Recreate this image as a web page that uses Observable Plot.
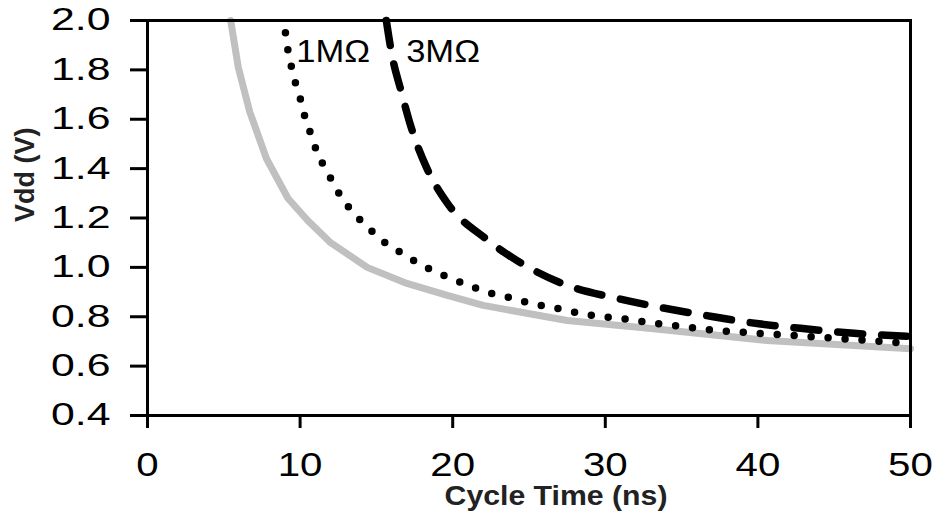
<!DOCTYPE html>
<html><head><meta charset="utf-8">
<script src="https://cdn.jsdelivr.net/npm/d3@7"></script>
<script src="https://cdn.jsdelivr.net/npm/@observablehq/plot@0.6"></script>
<style>body{margin:0;background:#fff} svg{display:block}</style>
</head><body><div id="chart"></div>
<script>
// Series: cycle time (ns) and Vdd (V)
const tBase = [5.45, 5.95, 6.7, 7.8, 9.2, 10.5, 12.0, 14.4, 17.0, 19.7, 22.0, 27.5, 33.0, 40.6, 50];
const vBase = [2.0, 1.81, 1.63, 1.44, 1.28, 1.19, 1.10, 1.0, 0.935, 0.886, 0.846, 0.785, 0.752, 0.704, 0.670];
const t1M = [9.04, 9.17, 9.37, 9.57, 9.9, 10.16, 10.4, 10.8, 11.1, 11.6, 12.1, 12.7, 13.4, 14.35, 15.45, 16.6, 17.76, 18.9, 20.05, 21.2, 22.3, 23.5, 24.6, 25.8, 26.9, 28.1, 29.2, 30.4, 31.6, 32.7, 37.3, 44.3, 50];
const v1M = [1.95, 1.89, 1.83, 1.77, 1.71, 1.648, 1.587, 1.526, 1.465, 1.405, 1.35, 1.283, 1.226, 1.166, 1.105, 1.06, 1.016, 0.98, 0.951, 0.923, 0.898, 0.882, 0.862, 0.846, 0.833, 0.817, 0.805, 0.797, 0.789, 0.777, 0.744, 0.716, 0.692];
const t3M = [15.65, 16.0, 16.62, 17.3, 18.28, 19.66, 22.15, 24.97, 27.5, 30.8, 33.6, 36.6, 39.4, 42.8, 46.3, 50];
const v3M = [2.0, 1.866, 1.714, 1.563, 1.405, 1.259, 1.117, 1.0, 0.927, 0.874, 0.838, 0.805, 0.777, 0.753, 0.733, 0.72];
const xTicks = [0, 10, 20, 30, 40, 50];
const yTicks = [0.4, 0.6, 0.8, 1.0, 1.2, 1.4, 1.6, 1.8, 2.0];
const seriesLabels = ["1MΩ", "3MΩ"];
const labelT = [9.75, 16.95];
const labelV = [1.875, 1.875];
const xTitle = "Cycle Time (ns)";
const yTitle = "Vdd (V)";

const zip = (ts, vs) => ts.map((t, i) => ({t, v: vs[i]}));

const plot = Plot.plot({
  width: 936, height: 515,
  marginLeft: 147, marginRight: 26, marginTop: 20, marginBottom: 100,
  style: {fontFamily: "'Liberation Sans', Arial, Helvetica, sans-serif", background: "#fff", color: "#000", overflow: "visible"},
  x: {domain: [0, 50]},
  y: {domain: [0.4, 2.0]},
  marks: [
    Plot.line(zip(tBase, vBase), {x: "t", y: "v", stroke: "#c0c0c0", strokeWidth: 7}),
    Plot.line(zip(t1M, v1M), {x: "t", y: "v", stroke: "#000", strokeWidth: 7.5, strokeDasharray: "0,17", strokeLinecap: "round"}),
    Plot.line(zip(t3M, v3M), {x: "t", y: "v", stroke: "#000", strokeWidth: 7.5, strokeDasharray: "25,19", strokeLinecap: "round", curve: "monotone-x"}),
    Plot.frame({stroke: "#000", strokeWidth: 3}),
    Plot.axisY({ticks: yTicks, tickFormat: d3.format(".1f"), tickSize: 17, tickPadding: 20, fontSize: 31, strokeWidth: 3, label: null}),
    Plot.axisX({ticks: xTicks, tickFormat: d3.format("d"), tickSize: 13, tickPadding: 24, fontSize: 33, strokeWidth: 3, label: null}),
    Plot.text(seriesLabels, {x: (d, i) => labelT[i], y: (d, i) => labelV[i], text: d => d, textAnchor: "start", fontSize: 32, fill: "#000"}),
    Plot.text([xTitle], {frameAnchor: "bottom", text: d => d, dx: 27, dy: 89, fontSize: 27, fontWeight: "bold", fill: "#222"}),
    Plot.text([yTitle], {frameAnchor: "left", text: d => d, dx: -122, dy: 4, rotate: -90, fontSize: 27, fontWeight: "bold", fill: "#222"})
  ]
});
document.getElementById("chart").appendChild(plot);

function stretch(sel, sx) {
  sel.each(function () {
    const t = d3.select(this);
    const num = (a) => { const s = t.attr(a); return s != null && /^-?[\d.]+$/.test(s) ? +s : null; };
    const x = num("x"), y = num("y");
    if (x != null) t.attr("x", null);
    if (y != null) t.attr("y", null);
    const tr = t.attr("transform") || "";
    t.attr("transform", `${tr} translate(${x || 0},${y || 0}) scale(${sx},1)`);
  });
}
const svg = d3.select(plot);
stretch(svg.selectAll('g[aria-label="y-axis tick label"] text'), 1.38);
stretch(svg.selectAll('g[aria-label="x-axis tick label"] text'), 1.22);
stretch(svg.selectAll("text").filter(function () { return this.textContent.includes("MΩ"); }), 1.08);
stretch(svg.selectAll("text").filter(function () { return this.textContent === xTitle; }), 1.12);
</script>
</body></html>
